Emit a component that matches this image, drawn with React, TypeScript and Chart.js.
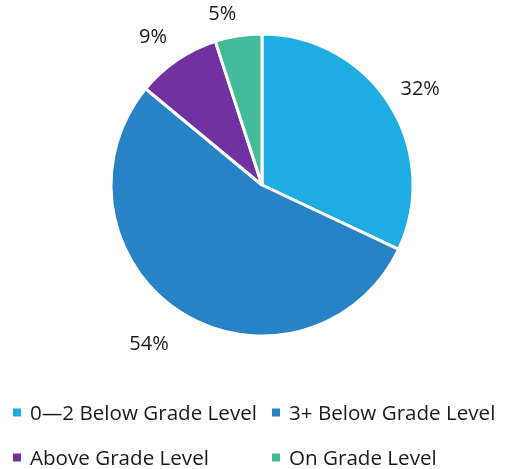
import React, { useEffect, useRef } from "react";
import { Chart, registerables } from "chart.js";

Chart.register(...registerables);

const categories = [
  "0\u20142 Below Grade Level",
  "3+ Below Grade Level",
  "Above Grade Level",
  "On Grade Level",
];
const values = [32, 54, 9, 5];
const percentLabels = ["32%", "54%", "9%", "5%"];
const colors = ["#1FACE3", "#2882C6", "#7131A0", "#44BB98"];
const labelGaps = [13, 23, 18, 14];

const FONT = "'Open Sans', 'Noto Sans', sans-serif";

const labelPlugin = {
  id: "outerLabels",
  afterDatasetsDraw(chart: any) {
    const ctx = chart.ctx;
    const meta = chart.getDatasetMeta(0);
    ctx.save();
    ctx.font = `20px ${FONT}`;
    ctx.fillStyle = "#1a1a1a";
    ctx.textAlign = "center";
    ctx.textBaseline = "middle";
    meta.data.forEach((arc: any, i: number) => {
      const mid = (arc.startAngle + arc.endAngle) / 2;
      const r = arc.outerRadius + labelGaps[i];
      const c = Math.cos(mid);
      const s = Math.sin(mid);
      const hw = ctx.measureText(percentLabels[i]).width / 2;
      const hh = 10;
      const x = arc.x + c * r + Math.sign(c) * hw;
      const y = arc.y + s * r + Math.sign(s) * hh + 2;
      ctx.fillText(percentLabels[i], x, y);
    });
    ctx.restore();
  },
};

const legendPlugin = {
  id: "gridLegend",
  afterDraw(chart: any) {
    const ctx = chart.ctx;
    const cols = [13, 272];
    const rows = [412.5, 457.5];
    ctx.save();
    ctx.font = `20.6px ${FONT}`;
    ctx.textAlign = "left";
    ctx.textBaseline = "middle";
    categories.forEach((c, i) => {
      const x = cols[i % 2];
      const y = rows[Math.floor(i / 2)];
      ctx.fillStyle = colors[i];
      ctx.fillRect(x, y - 4, 8, 8);
      ctx.fillStyle = "#1a1a1a";
      ctx.fillText(c, x + 17, y + 1.5);
    });
    ctx.restore();
  },
};

export default function App() {
  const ref = useRef<HTMLCanvasElement>(null);
  useEffect(() => {
    if (!ref.current) return;
    const chart = new Chart(ref.current, {
      type: "pie",
      data: {
        labels: categories,
        datasets: [
          {
            data: values,
            backgroundColor: colors,
            borderColor: "#ffffff",
            borderWidth: 3,
          },
        ],
      },
      options: {
        animation: false,
        responsive: false,
        radius: 151,
        layout: { padding: { left: 30, right: 11, top: 20, bottom: 119 } },
        plugins: {
          legend: { display: false },
          tooltip: { enabled: false },
        },
      } as any,
      plugins: [labelPlugin, legendPlugin],
    });
    return () => chart.destroy();
  }, []);
  return (
    <div style={{ position: "fixed", left: 0, top: 0, width: 505, height: 469, background: "#fff" }}>
      <canvas ref={ref} width={505} height={469} style={{ width: 505, height: 469 }} />
    </div>
  );
}
